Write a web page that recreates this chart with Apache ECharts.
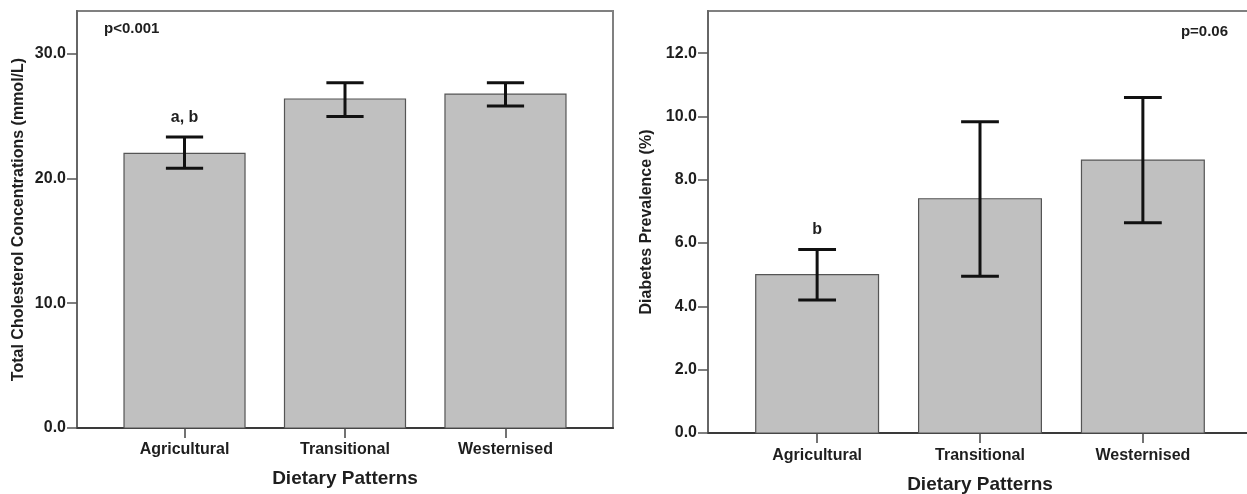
<!DOCTYPE html>
<html>
<head>
<meta charset="utf-8">
<script src="https://cdn.jsdelivr.net/npm/echarts@6/dist/echarts.min.js"></script>
<style>
  html, body { margin: 0; padding: 0; background: #fff; }
  #chart { width: 1247px; height: 494px; }
</style>
</head>
<body>
<div id="chart"></div>
<script>
// categories shared by both panels
var categories = ['Agricultural', 'Transitional', 'Westernised'];

// left panel: total cholesterol, mean and error bar ends
var cholMean = [22.0, 26.35, 26.75];
var cholLow = [20.8, 24.95, 25.8];
var cholHigh = [23.3, 27.65, 27.65];
var cholLetters = ['a, b', '', ''];
var cholTicks = [0, 10, 20, 30];

// right panel: diabetes prevalence
var diabMean = [5.0, 7.4, 8.62];
var diabLow = [4.2, 4.95, 6.64];
var diabHigh = [5.8, 9.83, 10.6];
var diabLetters = ['b', '', ''];
var diabTicks = [0, 2, 4, 6, 8, 10, 12];

var FONT = '"Liberation Sans", Arial, sans-serif';
var TXT = '#1e1e1e';

var chart = echarts.init(document.getElementById('chart'), null, { renderer: 'canvas' });

function barItem(params, api) {
    var x = api.value(0);
    var top = api.coord([x, api.value(1)]);
    var base = api.coord([x, 0]);
    var w = api.size([0.754, 0])[0];
    return {
        type: 'rect',
        shape: { x: top[0] - w / 2, y: top[1], width: w, height: base[1] - top[1] },
        style: { fill: '#c0c0c0', stroke: '#555', lineWidth: 1.2 }
    };
}

function errItem(params, api) {
    var x = api.value(0);
    var lo = api.coord([x, api.value(1)]);
    var hi = api.coord([x, api.value(2)]);
    var cw = api.size([0.232, 0])[0] / 2;
    var st = { stroke: '#111', lineWidth: 3 };
    var kids = [
        { type: 'line', shape: { x1: lo[0], y1: lo[1], x2: hi[0], y2: hi[1] }, style: st },
        { type: 'line', shape: { x1: hi[0] - cw, y1: hi[1], x2: hi[0] + cw, y2: hi[1] }, style: st },
        { type: 'line', shape: { x1: lo[0] - cw, y1: lo[1], x2: lo[0] + cw, y2: lo[1] }, style: st }
    ];
    var letter = api.value(3);
    if (letter) {
        kids.push({
            type: 'text',
            style: {
                text: letter, x: hi[0], y: hi[1] - 12,
                align: 'center', verticalAlign: 'bottom',
                font: 'bold 16px ' + FONT, fill: TXT
            }
        });
    }
    return { type: 'group', children: kids };
}

function xAxisFor(gridIndex, nameGap, margin) {
    return {
        type: 'value', gridIndex: gridIndex,
        min: -0.67, max: 2.67,
        name: 'Dietary Patterns', nameLocation: 'middle', nameGap: nameGap,
        nameTextStyle: { fontFamily: FONT, fontWeight: 'bold', fontSize: 19, color: TXT },
        axisLine: { show: true, onZero: false, lineStyle: { color: '#3a3a3a', width: 2 } },
        axisTick: { show: true, length: 10, customValues: [0, 1, 2], lineStyle: { color: '#444', width: 1.5 } },
        axisLabel: {
            customValues: [0, 1, 2], margin: margin,
            formatter: function (v) { return categories[Math.round(v)]; },
            fontFamily: FONT, fontWeight: 'bold', fontSize: 16, color: TXT
        },
        splitLine: { show: false }
    };
}

function yAxisFor(gridIndex, max, ticks, name, nameGap) {
    return {
        type: 'value', gridIndex: gridIndex,
        min: 0, max: max,
        name: name, nameLocation: 'middle', nameGap: nameGap, nameRotate: 90,
        nameTextStyle: { fontFamily: FONT, fontWeight: 'bold', fontSize: 16, color: TXT },
        axisLine: { show: true, onZero: false, lineStyle: { color: '#666', width: 2 } },
        axisTick: { show: true, length: 10, customValues: ticks, lineStyle: { color: '#555', width: 1.5 } },
        axisLabel: {
            customValues: ticks, margin: 11,
            formatter: function (v) { return v.toFixed(1); },
            fontFamily: FONT, fontWeight: 'bold', fontSize: 16, color: TXT
        },
        splitLine: { show: false }
    };
}

function rows(mean, low, high, letters) {
    return {
        bars: mean.map(function (v, i) { return [i, v]; }),
        errs: mean.map(function (v, i) { return [i, low[i], high[i], letters[i]]; })
    };
}

var chol = rows(cholMean, cholLow, cholHigh, cholLetters);
var diab = rows(diabMean, diabLow, diabHigh, diabLetters);

var option = {
    animation: false,
    backgroundColor: '#fff',
    grid: [
        { left: 77, top: 11, width: 536, height: 417, show: true, borderColor: '#808080', borderWidth: 2, outerBoundsMode: 'none' },
        { left: 708, top: 11, width: 544, height: 422, show: true, borderColor: '#808080', borderWidth: 2, outerBoundsMode: 'none' }
    ],
    xAxis: [xAxisFor(0, 41, 14), xAxisFor(1, 42, 15)],
    yAxis: [
        yAxisFor(0, 33.4, cholTicks, 'Total Cholesterol Concentrations (mmol/L)', 50),
        yAxisFor(1, 13.33, diabTicks, 'Diabetes Prevalence (%)', 53)
    ],
    graphic: [
        { type: 'text', left: 104, top: 21, style: { text: 'p<0.001', font: 'bold 15px ' + FONT, fill: TXT } },
        { type: 'text', right: 19, top: 24, style: { text: 'p=0.06', font: 'bold 15px ' + FONT, fill: TXT } }
    ],
    series: [
        { type: 'custom', xAxisIndex: 0, yAxisIndex: 0, renderItem: barItem, data: chol.bars },
        { type: 'custom', xAxisIndex: 0, yAxisIndex: 0, renderItem: errItem, data: chol.errs, z: 3 },
        { type: 'custom', xAxisIndex: 1, yAxisIndex: 1, renderItem: barItem, data: diab.bars },
        { type: 'custom', xAxisIndex: 1, yAxisIndex: 1, renderItem: errItem, data: diab.errs, z: 3 }
    ]
};

chart.setOption(option);
</script>
</body>
</html>
